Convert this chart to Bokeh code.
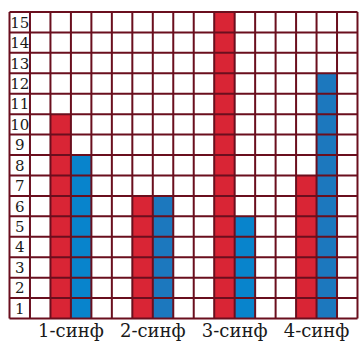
from bokeh.plotting import figure
from bokeh.models import Range1d
from bokeh.core.properties import value
from bokeh.embed import file_html
from bokeh.resources import INLINE

categories = ["1-синф", "2-синф", "3-синф", "4-синф"]
red_values = [10, 6, 15, 7]
blue_values = [8, 6, 5, 12]
blue_colors = ["#0884cc", "#1c78be", "#0884cc", "#1c78be"]
y_ticks = list(range(1, 16))

n_cols = 17
n_rows = 15
grid_color = "#6a0f1e"

p = figure(width=360, height=342, output_backend="svg", toolbar_location=None,
           x_range=Range1d(-0.44, 17.147), y_range=Range1d(-1.175, 15.563),
           min_border=0, min_border_left=0, min_border_right=0,
           min_border_top=0, min_border_bottom=0)
p.axis.visible = False
p.grid.visible = False
p.outline_line_color = None
p.background_fill_color = "white"

red_x = [2.5 + 4 * i for i in range(len(categories))]
blue_x = [3.5 + 4 * i for i in range(len(categories))]
label_x = [3.0 + 4 * i for i in range(len(categories))]

p.vbar(x=red_x, top=red_values, bottom=0, width=1, fill_color="#d92535",
       line_color=None)
p.vbar(x=blue_x, top=blue_values, bottom=0, width=1, fill_color=blue_colors,
       line_color=None)

# grid lines on top
vx = list(range(n_cols + 1))
p.segment(x0=vx, x1=vx, y0=[0] * len(vx), y1=[n_rows] * len(vx),
          line_color=grid_color, line_width=2)
hy = list(range(n_rows + 1))
p.segment(x0=[0] * len(hy), x1=[n_cols] * len(hy), y0=hy, y1=hy,
          line_color=grid_color, line_width=2)

p.text(x=[0.5] * len(y_ticks), y=[t - 0.5 for t in y_ticks],
       text=[str(t) for t in y_ticks], text_align="center",
       text_baseline="middle", text_font=value("DejaVu Serif"),
       text_font_size="15px", text_color="#1a1a1a")

p.text(x=label_x, y=[-0.6] * len(categories), text=categories,
       text_align="center", text_baseline="middle",
       text_font=value("DejaVu Serif"), text_font_size="18px",
       text_color="#1a1a1a")

open("out.html", "w").write(file_html(p, INLINE))
